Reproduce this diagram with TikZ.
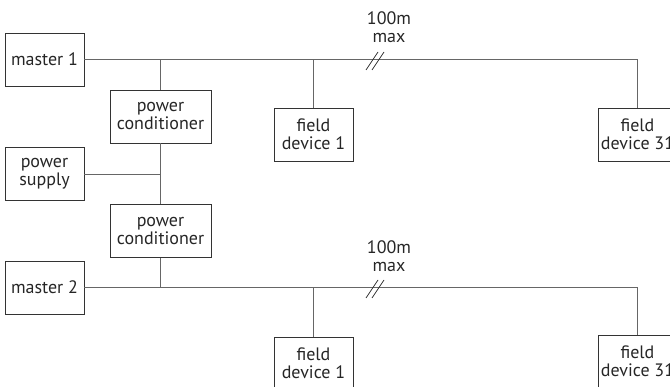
\documentclass[tikz,border=0pt]{standalone}
\usepackage{fontspec}
\setmainfont{PT Sans}
\usetikzlibrary{positioning}
\begin{document}
\begin{tikzpicture}[x=1pt,y=-1pt]
      \tikzstyle{every node}=[font=\fontsize{18}{18}\selectfont,align=center,text=black!85]
      \tikzstyle{unit}=[draw=black!80,line width=0.8pt,minimum width=79pt,minimum height=53pt,inner sep=0pt]
      \tikzstyle{wire}=[draw=black!60,line width=0.9pt]
      \useasboundingbox (0,0) rectangle (670,387);
      \clip (0,0) rectangle (670,387);

      % upper segment
      \node[unit] (m1) at (44.5,59.5) {master 1};
      \node[unit,minimum width=101pt] (pc1) at (160.5,116.5) {power\\conditioner};
      \node[unit] (fd1) at (313.5,134.5) {field\\device 1};
      \node[unit] (fd31) at (637.5,134.5) {field\\device 31};
      \node (lim1) at (389,27) {100m\\max};

      % supply
      \node[unit] (ps) at (44.5,174) {power\\supply};
      \node[unit,minimum width=101pt] (pc2) at (160.5,231) {power\\conditioner};

      % lower segment
      \node[unit] (m2) at (44.5,287.5) {master 2};
      \node[unit] (fd1b) at (313.5,363.5) {field\\device 1};
      \node[unit] (fd31b) at (637.5,361.5) {field\\device 31};
      \node (lim2) at (389,256) {100m\\max};

      \draw[wire] (m1.east) -| (fd31.north);
      \draw[wire] (pc1.north) -- (pc1.north |- m1.east);
      \draw[wire] (fd1.north) -- (fd1.north |- m1.east);
      \draw[wire] (pc1.south) -- (pc2.north);
      \draw[wire] (ps.east) -- (ps.east -| pc1.south);
      \draw[wire] (pc2.south) -- (pc2.south |- m2.east);
      \draw[wire] (m2.east) -| (fd31b.north);
      \draw[wire] (fd1b.north) -- (fd1b.north |- m2.east);

      % length marks
      \draw[black!80,line width=0.7pt] (366,70) -- (378,52) (372,70) -- (384,52);
      \draw[black!80,line width=0.7pt] (366,298) -- (378,280) (372,298) -- (384,280);
    \end{tikzpicture}
\end{document}
